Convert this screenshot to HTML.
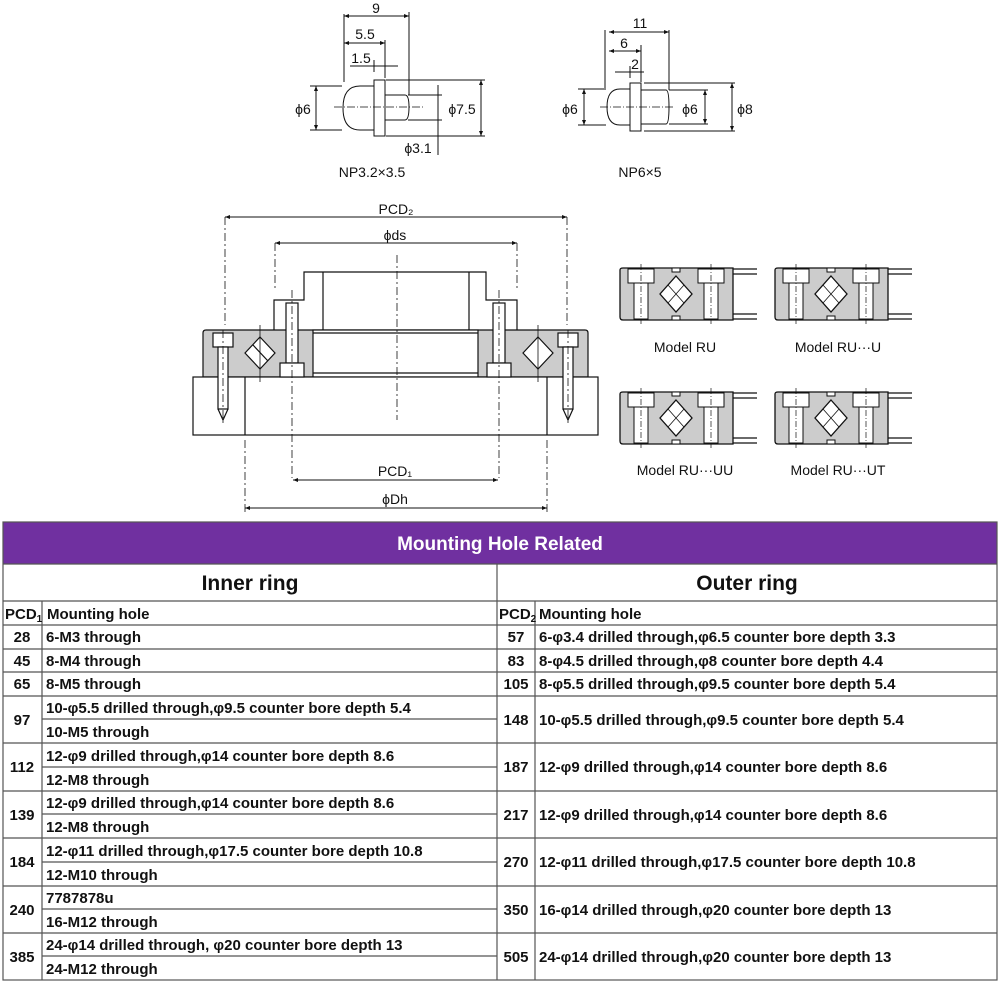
<!DOCTYPE html>
<html><head><meta charset="utf-8"><style>
html,body{margin:0;padding:0;background:#fff}
svg{display:block}
text{font-family:"Liberation Sans",Arial,sans-serif}
.t{font-size:15px;font-weight:bold;fill:#111}
.d{font-size:14px;fill:#111}
</style></head><body>
<svg width="1000" height="984" viewBox="0 0 1000 984" xmlns="http://www.w3.org/2000/svg">
<defs>
<marker id="a" viewBox="0 0 10 10" refX="10" refY="5" markerWidth="5" markerHeight="5" orient="auto-start-reverse"><path d="M0,1 L10,5 L0,9z" fill="#111"/></marker>
<g id="mdl">
 <path d="M0,2 Q0,0 3,0 H113 V52 H3 Q0,52 0,49Z" fill="#ccc" stroke="#111" stroke-width="1.3"/>
 <path d="M113,1 H137 M113,51 H137 M113,6 H137 M113,46 H137" stroke="#111" stroke-width="1.2"/>
 <rect x="8" y="1" width="26" height="14" fill="#fff" stroke="#111"/>
 <rect x="14" y="15" width="14" height="36" fill="#fff" stroke="#111"/>
 <rect x="78" y="1" width="26" height="14" fill="#fff" stroke="#111"/>
 <rect x="84" y="15" width="14" height="36" fill="#fff" stroke="#111"/>
 <path d="M56,8 L72,26 L56,44 L40,26Z" fill="#fff" stroke="#111" stroke-width="1.3"/>
 <path d="M48,17 L64,35 M64,17 L48,35" stroke="#111" stroke-width="0.8"/>
 <rect x="52" y="0" width="8" height="4" fill="#fff" stroke="#111"/>
 <rect x="52" y="48" width="8" height="4" fill="#fff" stroke="#111"/>
 <path d="M21,-4 V56 M91,-4 V56" stroke="#111" stroke-width="0.7" stroke-dasharray="6,2,1,2"/>
</g>
</defs>

<!-- NP3.2x3.5 -->
<g stroke="#111" fill="none" stroke-width="1">
 <path d="M374,86 H360 Q343,86 343,108 Q343,130 360,130 H374" fill="#fff"/>
 <rect x="374" y="80" width="11" height="56" fill="#fff"/>
 <path d="M385,95 H405 Q409,95 409,107 Q409,120 405,120 H385"/>
 <path d="M344,82 V14 M385,78 V40 M409,95 V12"/>
 <path d="M386,80 H485 M386,136 H485 M408,95 H442 M408,120 H442 M310,86 H342 M310,130 H342"/>
 <path d="M334,107 H425" stroke-dasharray="8,2,1,2" stroke-width="0.7"/>
 <line x1="344" y1="16" x2="409" y2="16" marker-start="url(#a)" marker-end="url(#a)"/>
 <line x1="344" y1="43" x2="385" y2="43" marker-start="url(#a)" marker-end="url(#a)"/>
 <path d="M350,66 H398 M374,60 V72"/>
 <line x1="316" y1="86" x2="316" y2="130" marker-start="url(#a)" marker-end="url(#a)"/>
 <line x1="481" y1="80" x2="481" y2="136" marker-start="url(#a)" marker-end="url(#a)"/>
 <path d="M438,85 V155"/>
</g>
<text x="376" y="13" class="d" text-anchor="middle">9</text>
<text x="365" y="39" class="d" text-anchor="middle">5.5</text>
<text x="361" y="63" class="d" text-anchor="middle">1.5</text>
<text x="303" y="114" class="d" text-anchor="middle">ϕ6</text>
<text x="462" y="114" class="d" text-anchor="middle">ϕ7.5</text>
<text x="418" y="153" class="d" text-anchor="middle">ϕ3.1</text>
<text x="372" y="177" class="d" text-anchor="middle">NP3.2×3.5</text>

<!-- NP6x5 -->
<g stroke="#111" fill="none" stroke-width="1">
 <path d="M630,89 H620 Q607,89 607,107 Q607,125 620,125 H630" fill="#fff"/>
 <rect x="630" y="83" width="11" height="48" fill="#fff"/>
 <path d="M641,90 H666 Q669,90 669,107 Q669,124 666,124 H641"/>
 <path d="M605,88 V30 M641,82 V45 M669,90 V30"/>
 <path d="M578,89 H606 M578,125 H606 M644,83 H735 M644,131 H735 M669,90 H708 M669,124 H708"/>
 <path d="M600,107 H675" stroke-dasharray="8,2,1,2" stroke-width="0.7"/>
 <line x1="609" y1="32" x2="669" y2="32" marker-start="url(#a)" marker-end="url(#a)"/>
 <line x1="609" y1="51" x2="641" y2="51" marker-start="url(#a)" marker-end="url(#a)"/>
 <path d="M615,72 H644 M630,66 V78"/>
 <line x1="584" y1="89" x2="584" y2="125" marker-start="url(#a)" marker-end="url(#a)"/>
 <line x1="705" y1="90" x2="705" y2="124" marker-start="url(#a)" marker-end="url(#a)"/>
 <line x1="732" y1="83" x2="732" y2="131" marker-start="url(#a)" marker-end="url(#a)"/>
</g>
<text x="640" y="28" class="d" text-anchor="middle">11</text>
<text x="624" y="48" class="d" text-anchor="middle">6</text>
<text x="635" y="69" class="d" text-anchor="middle">2</text>
<text x="570" y="114" class="d" text-anchor="middle">ϕ6</text>
<text x="690" y="114" class="d" text-anchor="middle">ϕ6</text>
<text x="745" y="114" class="d" text-anchor="middle">ϕ8</text>
<text x="640" y="177" class="d" text-anchor="middle">NP6×5</text>

<!-- Main drawing -->
<g stroke="#111" fill="none" stroke-width="1.2">
 <path d="M274,330 V300 H304 V272 H486 V300 H517 V330" fill="#fff"/>
 <path d="M323,272 V330 M469,272 V330"/>
 <path d="M206,330 H585 Q588,330 588,333 V377 H203 V333 Q203,330 206,330Z" fill="#ccc"/>
 <rect x="313" y="330" width="165" height="47" fill="#fff"/>
 <path d="M313,333 H478 M313,373 H478"/>
 <rect x="193" y="377" width="405" height="58" fill="#fff"/>
 <path d="M245,377 V435 M547,377 V435"/>
 <rect x="213" y="333" width="20" height="14" fill="#fff"/>
 <rect x="218" y="347" width="10" height="62" fill="#fff"/>
 <path d="M218,409 L223,420 L228,409"/>
 <rect x="558" y="333" width="20" height="14" fill="#fff"/>
 <rect x="563" y="347" width="10" height="62" fill="#fff"/>
 <path d="M563,409 L568,420 L573,409"/>
 <rect x="286" y="303" width="12" height="60" fill="#fff"/>
 <rect x="280" y="363" width="24" height="14" fill="#fff"/>
 <rect x="493" y="303" width="12" height="60" fill="#fff"/>
 <rect x="487" y="363" width="24" height="14" fill="#fff"/>
 <path d="M260,337 L275,353 L260,369 L245,353Z" fill="#fff"/>
 <path d="M253,345 L268,361 M531,345 L546,361"/>
 <path d="M538,337 L553,353 L538,369 L523,353Z" fill="#fff"/>
 <path d="M260,325 V382 M538,325 V382" stroke-width="0.8"/>
</g>
<g stroke="#111" stroke-width="0.8" fill="none" stroke-dasharray="8,3,2,3">
 <path d="M397,255 V420"/>
 <path d="M225,217 V325 M567,217 V325 M275,243 V290 M517,243 V290"/>
 <path d="M223,330 V425 M568,330 V425 M292,290 V478 M499,290 V478 M245,440 V512 M547,440 V512"/>
</g>
<g stroke="#111" stroke-width="1">
 <line x1="225" y1="217" x2="567" y2="217" marker-start="url(#a)" marker-end="url(#a)"/>
 <line x1="275" y1="243" x2="517" y2="243" marker-start="url(#a)" marker-end="url(#a)"/>
 <line x1="293" y1="480" x2="498" y2="480" marker-start="url(#a)" marker-end="url(#a)"/>
 <line x1="245" y1="508" x2="547" y2="508" marker-start="url(#a)" marker-end="url(#a)"/>
</g>
<text x="396" y="214" class="d" text-anchor="middle">PCD₂</text>
<text x="395" y="240" class="d" text-anchor="middle">ϕds</text>
<text x="395" y="476" class="d" text-anchor="middle">PCD₁</text>
<text x="395" y="504" class="d" text-anchor="middle">ϕDh</text>

<use href="#mdl" x="620" y="268"/>
<use href="#mdl" x="775" y="268"/>
<use href="#mdl" x="620" y="392"/>
<use href="#mdl" x="775" y="392"/>
<text x="685" y="352" class="d" text-anchor="middle">Model RU</text>
<text x="838" y="352" class="d" text-anchor="middle">Model RU···U</text>
<text x="685" y="475" class="d" text-anchor="middle">Model RU···UU</text>
<text x="838" y="475" class="d" text-anchor="middle">Model RU···UT</text>

<!-- Table -->
<rect x="3" y="522" width="994" height="42" fill="#7030a0"/>
<text x="500" y="550" text-anchor="middle" style="font-size:19px;font-weight:bold;fill:#fff">Mounting Hole Related</text>
<g stroke="#555" stroke-width="1.2" fill="none">
 <rect x="3" y="522" width="994" height="458"/>
 <path d="M3,564 H997 M3,601 H997 M3,625 H997 M3,649 H997 M3,672 H997 M3,696 H997 M3,743 H997 M3,791 H997 M3,838 H997 M3,886 H997 M3,933 H997"/>
 <path d="M42,719 H497 M42,767 H497 M42,814 H497 M42,862 H497 M42,909 H497 M42,956 H497"/>
 <path d="M497,564 V980 M42,601 V980 M535,601 V980"/>
</g>
<text x="250" y="590" text-anchor="middle" style="font-size:21px;font-weight:bold;fill:#111">Inner ring</text>
<text x="747" y="590" text-anchor="middle" style="font-size:21px;font-weight:bold;fill:#111">Outer ring</text>
<g class="t">
<text x="5" y="619" class="t">PCD<tspan style="font-size:10px" dy="3">1</tspan></text>
<text x="47" y="619" class="t">Mounting hole</text>
<text x="499" y="619" class="t">PCD<tspan style="font-size:10px" dy="3">2</tspan></text>
<text x="539" y="619" class="t">Mounting hole</text>
</g>
<g class="t" text-anchor="middle">
<text x="22" y="642">28</text><text x="22" y="666">45</text><text x="22" y="689">65</text>
<text x="22" y="725">97</text><text x="22" y="772">112</text><text x="22" y="820">139</text>
<text x="22" y="867">184</text><text x="22" y="915">240</text><text x="22" y="962">385</text>
<text x="516" y="642">57</text><text x="516" y="666">83</text><text x="516" y="689">105</text>
<text x="516" y="725">148</text><text x="516" y="772">187</text><text x="516" y="820">217</text>
<text x="516" y="867">270</text><text x="516" y="915">350</text><text x="516" y="962">505</text>
</g>
<g class="t">
<text x="46" y="642">6-M3 through</text>
<text x="46" y="666">8-M4 through</text>
<text x="46" y="689">8-M5 through</text>
<text x="46" y="713">10-φ5.5 drilled through,φ9.5 counter bore depth 5.4</text>
<text x="46" y="737">10-M5 through</text>
<text x="46" y="761">12-φ9 drilled through,φ14 counter bore depth 8.6</text>
<text x="46" y="785">12-M8 through</text>
<text x="46" y="808">12-φ9 drilled through,φ14 counter bore depth 8.6</text>
<text x="46" y="832">12-M8 through</text>
<text x="46" y="856">12-φ11 drilled through,φ17.5 counter bore depth 10.8</text>
<text x="46" y="880">12-M10 through</text>
<text x="46" y="903">7787878u</text>
<text x="46" y="927">16-M12 through</text>
<text x="46" y="950">24-φ14 drilled through, φ20 counter bore depth 13</text>
<text x="46" y="974">24-M12 through</text>
<text x="539" y="642">6-φ3.4 drilled through,φ6.5 counter bore depth 3.3</text>
<text x="539" y="666">8-φ4.5 drilled through,φ8 counter bore depth 4.4</text>
<text x="539" y="689">8-φ5.5 drilled through,φ9.5 counter bore depth 5.4</text>
<text x="539" y="725">10-φ5.5 drilled through,φ9.5 counter bore depth 5.4</text>
<text x="539" y="772">12-φ9 drilled through,φ14 counter bore depth 8.6</text>
<text x="539" y="820">12-φ9 drilled through,φ14 counter bore depth 8.6</text>
<text x="539" y="867">12-φ11 drilled through,φ17.5 counter bore depth 10.8</text>
<text x="539" y="915">16-φ14 drilled through,φ20 counter bore depth 13</text>
<text x="539" y="962">24-φ14 drilled through,φ20 counter bore depth 13</text>
</g>
</svg>
</body></html>
